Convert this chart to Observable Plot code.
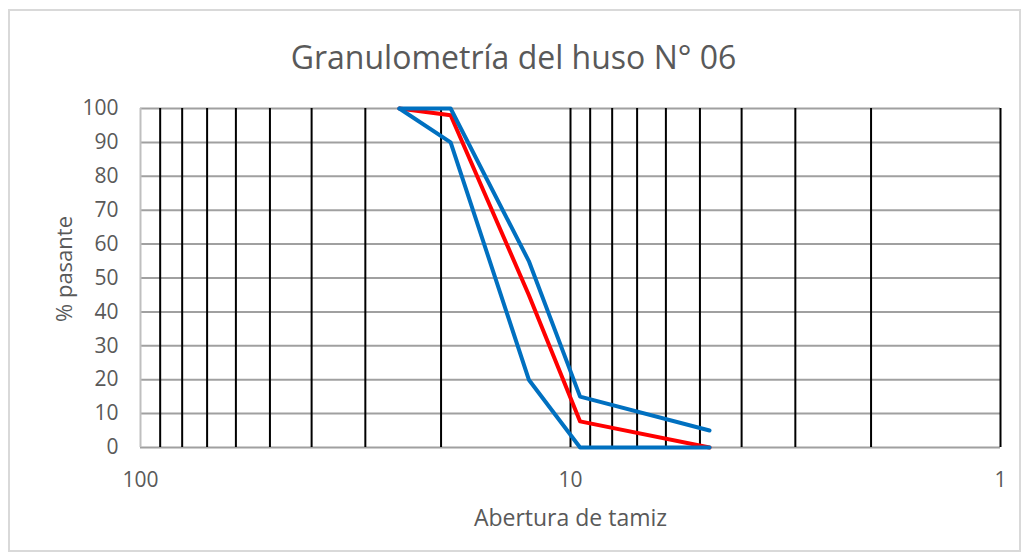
<!DOCTYPE html>
<html>
<head>
<meta charset="utf-8">
<script src="https://cdn.jsdelivr.net/npm/d3@7"></script>
<script src="https://cdn.jsdelivr.net/npm/@observablehq/plot@0.6"></script>
<style>
  html, body { margin: 0; padding: 0; background: #fff; width: 1027px; height: 559px; overflow: hidden; }
  #frame { position: absolute; left: 8px; top: 9px; width: 1009px; height: 539px; border: 2px solid #d9d9d9; pointer-events: none; }
  #title { height: 59px; padding-top: 40px; line-height: 34px; text-align: center; font-family: "Open Sans", sans-serif; font-size: 32px; color: #595959; }
  #chart svg { display: block; }
</style>
</head>
<body>
<div id="frame"></div>
<div id="title">Granulometría del huso N° 06</div>
<div id="chart"></div>
<script>
const sieves = [25, 19, 12.5, 9.5, 4.75];
const limiteInferior = [100, 90, 20, 0, 0];
const limiteSuperior = [100, 100, 55, 15, 5];
const muestra = [100, 98, 45, 7.7, 0];
const xTicks = [100, 10, 1];
const yTicks = [0, 10, 20, 30, 40, 50, 60, 70, 80, 90, 100];
const xGrid = [90, 80, 70, 60, 50, 40, 30, 20, 10, 9, 8, 7, 6, 5, 4, 3, 2, 1];

const toRows = (vals) => sieves.map((s, i) => ({x: s, y: vals[i]}));

const font = "'Open Sans', sans-serif";
const chart = Plot.plot({
  width: 1027,
  height: 460,
  marginLeft: 140,
  marginRight: 27,
  marginTop: 9,
  marginBottom: 112,
  style: {fontFamily: font, fontSize: "21px", color: "#595959", background: "#fff", overflow: "visible"},
  x: {type: "log", domain: [100, 1], label: null},
  y: {domain: [0, 100], label: null},
  marks: [
    Plot.ruleY(yTicks, {stroke: "#a0a0a0", strokeWidth: 2}),
    Plot.ruleX(xGrid, {stroke: "#000", strokeWidth: 2}),
    Plot.ruleX([100], {stroke: "#bfbfbf", strokeWidth: 2}),
    Plot.line(toRows(muestra), {x: "x", y: "y", stroke: "#ff0000", strokeWidth: 4}),
    Plot.line(toRows(limiteSuperior), {x: "x", y: "y", stroke: "#0070c0", strokeWidth: 4}),
    Plot.line(toRows(limiteInferior), {x: "x", y: "y", stroke: "#0070c0", strokeWidth: 4}),
    Plot.axisX({ticks: xTicks, tickFormat: d => String(d), tickSize: 0, tickPadding: 25, label: null, fill: "#595959", fontSize: 21}),
    Plot.axisY({ticks: yTicks, tickFormat: d => String(d), tickSize: 0, tickPadding: 22, label: null, fill: "#595959", fontSize: 21}),
    Plot.text(["Abertura de tamiz"], {frameAnchor: "bottom", dy: 71, lineAnchor: "middle", textAnchor: "middle", fill: "#595959", fontSize: 23}),
    Plot.text(["% pasante"], {frameAnchor: "left", dx: -76, dy: -9, rotate: -90, lineAnchor: "middle", textAnchor: "middle", fill: "#595959", fontSize: 22})
  ]
});
document.getElementById("chart").appendChild(chart);
</script>
</body>
</html>
